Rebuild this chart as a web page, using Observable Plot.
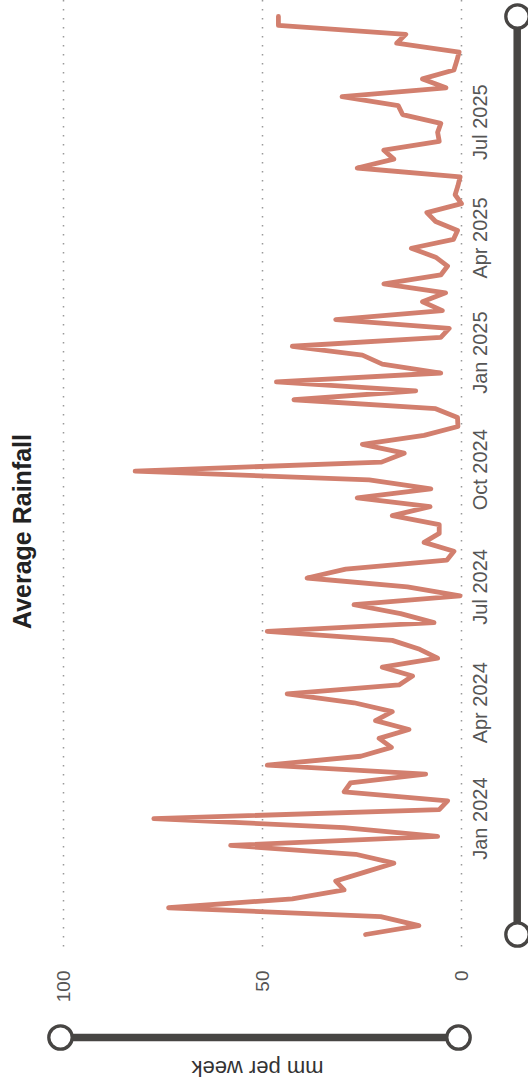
<!DOCTYPE html>
<html>
<head>
<meta charset="utf-8">
<script src="https://cdn.jsdelivr.net/npm/d3@7"></script>
<script src="https://cdn.jsdelivr.net/npm/@observablehq/plot@0.6"></script>
<style>
  body { margin: 0; background: #fff; }
</style>
</head>
<body>
<div id="chart"></div>
<script>
// weekly rainfall, mm per week, first week starting 2 Oct 2023
const firstWeek = "2023-10-02";
const rainfall = [
  24.1, 10.7, 20.3, 73.6, 42.5, 29.5, 31.6, 24.3, 17.0, 26.6,
  58.0, 6.0, 29.5, 77.3, 5.6, 3.5, 29.5, 27.9, 9.0, 48.8,
  25.3, 17.6, 20.7, 13.2, 21.6, 17.4, 27.0, 43.8, 15.7, 12.3,
  19.9, 6.0, 10.5, 17.4, 48.8, 6.9, 15.3, 27.0, 0.35, 13.6,
  38.8, 29.1, 3.7, 1.9, 9.4, 5.6, 5.6, 17.4, 7.9, 26.2,
  7.7, 23.2, 82.0, 20.1, 14.4, 24.9, 9.4, 0.9, 1.0, 6.5,
  42.1, 11.5, 46.5, 5.2, 19.9, 24.9, 42.5, 5.2, 3.1, 31.6,
  4.8, 9.8, 4.0, 19.5, 5.2, 3.5, 6.5, 12.6, 2.0, 1.0,
  6.5, 8.7, 0.0, 1.6, 0.9, 0.35, 26.2, 17.0, 19.5, 5.6,
  6.0, 5.2, 14.8, 15.9, 30.0, 3.9, 9.8, 1.9, 1.2, 0.6,
  16.3, 14.0, 46.0, 46.0
];
const dateTicks = ["2024-01-01", "2024-04-01", "2024-07-01", "2024-10-01", "2025-01-01", "2025-04-01", "2025-07-01"];
const valueTicks = [0, 50, 100];
const valueRange = [0, 100];

const start = new Date(firstWeek);
const weeks = rainfall.map((mm, i) => ({date: d3.utcDay.offset(start, 7 * i), mm}));
const dateRange = d3.extent(weeks, d => d.date);

const sliderColor = "#474543";

const chart = Plot.plot({
  width: 528,
  height: 1090,
  marginTop: 0,
  marginBottom: 138,
  marginLeft: 63,
  marginRight: 67,
  style: {fontFamily: "'Liberation Sans', Arial, sans-serif", background: "white"},
  x: {domain: valueRange, reverse: true, axis: null},
  y: {type: "utc", domain: dateRange, insetTop: 16, insetBottom: 18, axis: null},
  marks: [
    Plot.gridX(valueTicks, {stroke: "#999", strokeOpacity: 1, strokeWidth: 1.5, strokeDasharray: "1.5,7.5"}),
    Plot.text(valueTicks, {
      x: d => d, text: d => `${d}`, frameAnchor: "bottom", dy: 18,
      rotate: -90, textAnchor: "end", lineAnchor: "middle", fontSize: 19, fill: "#555"
    }),
    Plot.text(dateTicks.map(d => new Date(d)), {
      y: d => d, text: d3.utcFormat("%b %Y"), frameAnchor: "right", dx: 11,
      rotate: -90, textAnchor: "middle", lineAnchor: "top", fontSize: 20, fill: "#555"
    }),
    Plot.line(weeks, {
      x: "mm", y: "date", stroke: "#d27f6e", strokeWidth: 4.8,
      strokeLinejoin: "round", strokeLinecap: "round"
    }),
    Plot.text(["Average Rainfall"], {
      text: d => d, frameAnchor: "left", dx: -50, dy: 55, rotate: -90,
      textAnchor: "middle", lineAnchor: "top", fontSize: 25, fontWeight: "bold", fill: "#222"
    }),
    // date range slider
    Plot.ruleX([dateRange], {x: null, y1: d => d[0], y2: d => d[1], dx: 254.7, stroke: sliderColor, strokeWidth: 7.5}),
    Plot.dot(dateRange, {y: d => d, frameAnchor: "right", dx: 56, r: 11.7, fill: "white", stroke: sliderColor, strokeWidth: 3.3}),
    // value range slider
    Plot.ruleY([valueRange], {y: null, x1: d => d[0], x2: d => d[1], dx: -3, dy: 561, stroke: sliderColor, strokeWidth: 7.5}),
    Plot.dot(valueRange, {x: d => d, frameAnchor: "bottom", dx: -3, dy: 85, r: 11.7, fill: "white", stroke: sliderColor, strokeWidth: 3.3}),
    Plot.text(["mm per week"], {
      text: d => d, frameAnchor: "bottom", dx: -5, dy: 116, rotate: 180,
      textAnchor: "middle", lineAnchor: "middle", fontSize: 22, fill: "#333"
    })
  ]
});

document.getElementById("chart").append(chart);
</script>
</body>
</html>
